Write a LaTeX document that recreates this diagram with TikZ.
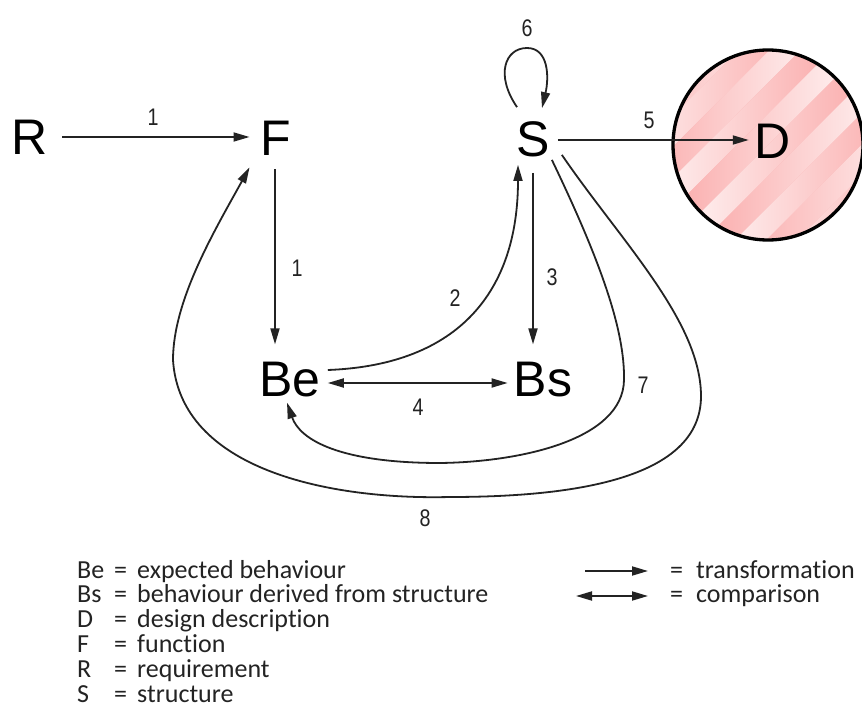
\documentclass[tikz,border=0pt]{standalone}
\usepackage{fontspec}
\setmainfont{Liberation Sans}
\newfontfamily\numfont[FakeStretch=0.82]{Liberation Sans}
\newfontfamily\legfont[Ligatures=NoCommon]{Carlito}
\usetikzlibrary{arrows.meta,calc}
\definecolor{ink}{RGB}{35,35,35}
\definecolor{pinkc}{RGB}{250,165,165}
\begin{document}
\begin{tikzpicture}[x=1pt,y=-1pt,
  big/.style={font=\fontsize{50}{50}\selectfont, inner sep=0pt, text=black},
  num/.style={font=\numfont\fontsize{24}{24}\selectfont, inner sep=0pt, text=ink},
  leg/.style={font=\legfont\fontsize{26}{26}\selectfont, inner sep=0pt, anchor=base west, text=ink},
  tr/.style={draw=ink, line width=1.8pt, -{Triangle[length=16pt,width=9pt]}},
  cmp/.style={draw=ink, line width=1.8pt, {Triangle[length=16pt,width=9pt]}-{Triangle[length=16pt,width=9pt]}}
]
\useasboundingbox (0,0) rectangle (862,711);
\fill[white] (0,0) rectangle (862,711);

% design description disc
\begin{scope}
  \clip (768,145) circle (95);
  \fill[pinkc] (768,145) circle (95);
  \begin{scope}[shift={(768,145)}, rotate=-45]
    \foreach \i in {-4,...,4}{
      \shade[left color=pinkc, right color=pinkc!8!white] (\i*44-22,-140) rectangle (\i*44,140);
      \shade[left color=pinkc!8!white, right color=pinkc] (\i*44,-140) rectangle (\i*44+22,140);
    }
  \end{scope}
\end{scope}
\draw[black, line width=3.3pt] (768,145) circle (95);

% main nodes
\node[big] (R)  at (30,137)  {R};
\node[big] (F)  at (276,138) {F};
\node[big] (S)  at (533,139) {S};
\node[big] (D)  at (773,141) {D};
\node[big] (Be) at (290,380) {Be};
\node[big] (Bs) at (543,380) {Bs};

% connectors
\draw[tr] ($(R.east)+(14,0)$) -- ($(R.east -| F.west)+(-11,0)$);
\draw[tr] ($(F.south)+(-1,14)$) -- ($(F.south |- Be.north)+(-1,-18)$);
\draw[tr] ($(Be.east)+(7,-10)$) .. controls (460,365) and (518,290) .. ($(S.south)+(-15,8)$);
\draw[tr] ($(S.south)+(0,16)$) -- ($(S.south |- Bs.north)+(0,-18)$);
\draw[cmp] ($(Be.east)+(7,3)$) -- ($(Be.east -| Bs.west)+(-6,3)$);
\draw[tr] ($(S.east)+(8,1)$) -- ($(S.east -| D.west)+(-6,1)$);
\draw[tr] ($(S.north)+(-16,-14)$) .. controls (495,75) and (505,48) .. (527,48)
  .. controls (549,48) and (549,78) .. ($(S.north)+(9,-13)$);
\draw[tr] ($(S.south east)+(2,3)$) .. controls (600,260) and (625,330) .. (624,380)
  .. controls (623,440) and (520,462) .. (440,463)
  .. controls (340,463) and (300,440) .. ($(Be.south)+(-3,5)$);
\draw[tr] ($(S.south east)+(12,-2)$) .. controls (620,240) and (700,320) .. (701,395)
  .. controls (702,470) and (600,497) .. (450,497)
  .. controls (330,500) and (180,470) .. (173,360)
  .. controls (173,300) and (215,230) .. ($(F.south west)+(-11,12)$);

% step labels
\node[num] (l1a) at (153,117) {1};
\node[num] (l1b) at (297,268) {1};
\node[num] (l2)  at (455,298) {2};
\node[num] (l3)  at (552,277) {3};
\node[num] (l4)  at (418,407) {4};
\node[num] (l5)  at (649,120) {5};
\node[num] (l6)  at (527,28)  {6};
\node[num] (l7)  at (643,385) {7};
\node[num] (l8)  at (425,518) {8};

% legend
\foreach \k/\a/\b in {0/Be/expected behaviour, 1/Bs/behaviour derived from structure,
  2/D/design description, 3/F/function, 4/R/requirement, 5/S/structure}{
  \node[leg] (ka\k) at (77,578+24.8*\k) {\a};
  \node[leg] (ke\k) at (114,578+24.8*\k) {=};
  \node[leg] (kt\k) at (137,578+24.8*\k) {\b};
}
\coordinate (ta) at (585,571);
\coordinate (tb) at (648,571);
\draw[tr] (ta) -- (tb);
\coordinate (ca) at (576,596);
\coordinate (cb) at (648,596);
\draw[cmp] (ca) -- (cb);
\node[leg] (te) at (670,578) {=};
\node[leg] (tt) at (696,578) {transformation};
\node[leg] (ce) at (670,602.8) {=};
\node[leg] (ct) at (696,602.8) {comparison};
\end{tikzpicture}
\end{document}
